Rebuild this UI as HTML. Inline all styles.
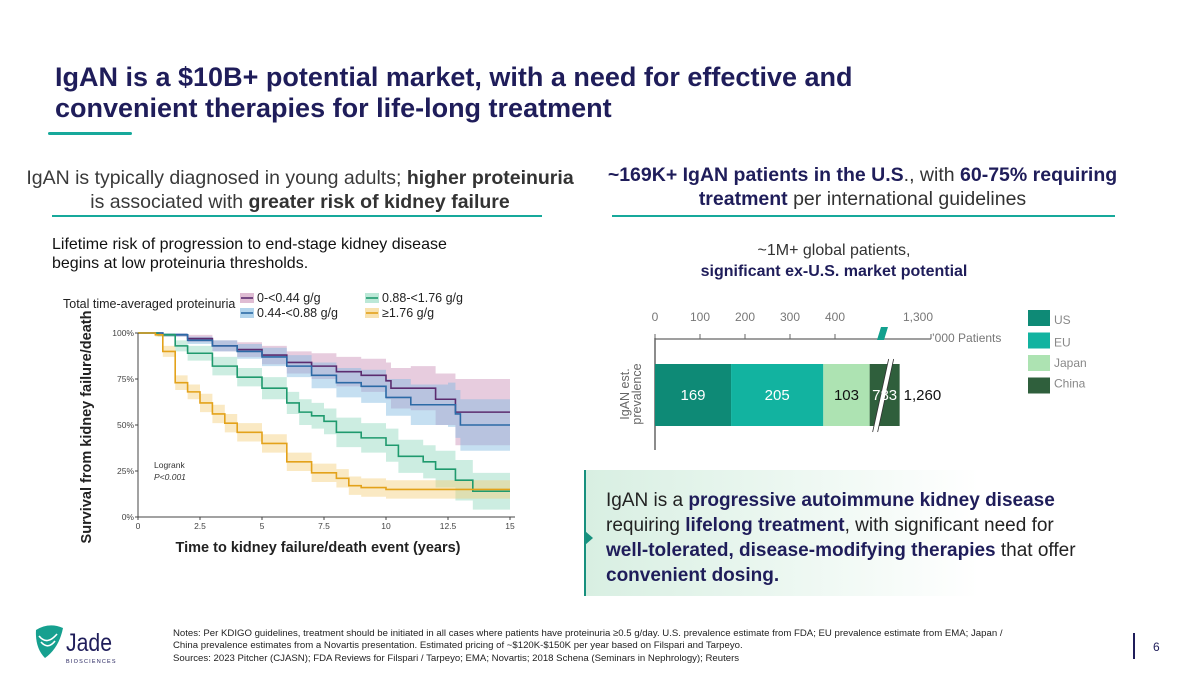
<!DOCTYPE html>
<html><head><meta charset="utf-8">
<style>
*{margin:0;padding:0;box-sizing:border-box}
body{width:1200px;height:675px;background:#fff;position:relative;overflow:hidden;font-family:"Liberation Sans",Arial,sans-serif}
.abs{position:absolute;white-space:nowrap}
.title{left:55px;top:62px;font-size:27px;font-weight:bold;color:#1f1d5a;line-height:31px}
.sub{font-size:19.5px;color:#3a3a3a;line-height:24px;text-align:center}
.sub b{color:#333}
.rsub{color:#333}
.rsub b{color:#1f1d5a}
.navy{color:#1f1d5a}
</style></head><body>
<div class="abs title">IgAN is a $10B+ potential market, with a need for effective and<br>convenient therapies for life-long treatment</div>
<div class="abs" style="left:48px;top:132px;width:84px;height:3px;background:#17a99b;border-radius:2px"></div>

<div class="abs sub" style="left:10px;width:580px;top:166px">IgAN is typically diagnosed in young adults; <b>higher proteinuria</b><br>is associated with <b>greater risk of kidney failure</b></div>
<div class="abs" style="left:52px;top:215px;width:490px;height:2px;background:#17a99b"></div>

<div class="abs sub rsub" style="left:585px;width:555px;top:163px"><b>~169K+ IgAN patients in the U.S</b>., with <b>60-75% requiring<br>treatment</b> per international guidelines</div>
<div class="abs" style="left:612px;top:215px;width:503px;height:2px;background:#17a99b"></div>

<div class="abs" style="left:52px;top:235px;font-size:16px;line-height:19px;color:#111">Lifetime risk of progression to end-stage kidney disease<br>begins at low proteinuria thresholds.</div>
<div class="abs" style="left:634px;width:400px;top:240px;font-size:16px;line-height:21px;text-align:center;color:#333">~1M+ global patients,<br><b class="navy">significant ex-U.S. market potential</b></div>

<svg class="abs" style="left:0;top:0" width="600" height="600" id="km">
<text x="63" y="308" font-size="12.5" fill="#222">Total time-averaged proteinuria</text>
<text x="91" y="427" font-size="14.5" font-weight="bold" fill="#222" text-anchor="middle" transform="rotate(-90 91 427)">Survival from kidney failure/death</text>
<text x="318" y="552" font-size="14.5" font-weight="bold" fill="#222" text-anchor="middle">Time to kidney failure/death event (years)</text>
<text x="154" y="468" font-size="8.5" fill="#333">Logrank</text>
<text x="154" y="480" font-size="8.5" fill="#333" font-style="italic">P&lt;0.001</text>
</svg>

<svg class="abs" style="left:0;top:0" width="1200" height="600" id="bar"></svg>

<div class="abs" style="left:584px;top:470px;width:395px;height:126px;background:linear-gradient(90deg,#d8efe2,#ffffff);border-left:2px solid #17907e"></div>
<div class="abs" style="left:585px;top:531px;width:0;height:0;border-top:7px solid transparent;border-bottom:7px solid transparent;border-left:8px solid #17907e"></div>
<div class="abs" style="left:606px;top:488px;font-size:19px;line-height:25px;color:#222">IgAN is a <b class="navy">progressive autoimmune kidney disease</b><br>requiring <b class="navy">lifelong treatment</b>, with significant need for<br><b class="navy">well-tolerated, disease-modifying therapies</b> that offer<br><b class="navy">convenient dosing.</b></div>

<svg class="abs" style="left:33px;top:624px" width="100" height="42">
<path d="M3 6 Q16 -2 30 4 Q26 24 12 34 Q2 24 3 6Z" fill="#16a08f"/>
<path d="M6 12 Q14 22 24 10 M8 18 Q15 26 22 17" stroke="#fff" stroke-width="1.6" fill="none"/>
<text x="33" y="27" font-size="25" fill="#1f1d5a" textLength="46" lengthAdjust="spacingAndGlyphs">Jade</text>
<text x="33" y="39" font-size="5.5" fill="#1f1d5a" letter-spacing="1.2">BIOSCIENCES</text>
</svg>
<div class="abs" style="left:173px;top:628px;font-size:9.6px;line-height:12.3px;color:#222">Notes: Per KDIGO guidelines, treatment should be initiated in all cases where patients have proteinuria ≥0.5 g/day. U.S. prevalence estimate from FDA; EU prevalence estimate from EMA; Japan /<br>China prevalence estimates from a Novartis presentation. Estimated pricing of ~$120K-$150K per year based on Filspari and Tarpeyo.<br>Sources: 2023 Pitcher (CJASN); FDA Reviews for Filspari / Tarpeyo; EMA; Novartis; 2018 Schena (Seminars in Nephrology); Reuters</div>
<div class="abs" style="left:1133px;top:633px;width:2px;height:26px;background:#1f1d5a"></div>
<div class="abs" style="left:1153px;top:640px;font-size:12px;color:#1f1d5a">6</div>

<script>
const kmTimes = {
 g1:[0,1,2,3,4,5,6,7,8,9,10,10.2,11,12,12.8,15],
 g2:[0,1,2,3,4,5,6,7,8,9,10,11,12.5,12.8,13,15],
 g3:[0,0.8,1.5,2,3,4,5,6,6.5,7,7.5,8,9,10,10.5,11.5,12,12.8,13.5,15],
 g4:[0,0.7,1,1.5,2,2.5,3,3.5,4,5,6,7,8,8.5,9,10,15]
};
const survPurple=[1,0.99,0.97,0.93,0.91,0.88,0.84,0.82,0.79,0.77,0.74,0.70,0.70,0.64,0.57,0.57];
const survBlue=[1,0.99,0.96,0.93,0.90,0.87,0.82,0.77,0.73,0.71,0.65,0.61,0.61,0.56,0.50,0.50];
const survGreen=[1,0.99,0.93,0.89,0.82,0.76,0.70,0.62,0.57,0.55,0.52,0.46,0.43,0.39,0.33,0.30,0.26,0.20,0.14,0.14];
const survYellow=[1,0.99,0.90,0.73,0.68,0.62,0.56,0.51,0.46,0.40,0.30,0.24,0.21,0.17,0.16,0.15,0.15];
const bandPurple=[0,0.01,0.02,0.03,0.04,0.05,0.06,0.07,0.08,0.09,0.10,0.11,0.12,0.14,0.18,0.23];
const bandBlue=[0,0.01,0.02,0.03,0.04,0.05,0.06,0.07,0.08,0.09,0.10,0.11,0.12,0.13,0.14,0.20];
const bandGreen=[0,0.01,0.03,0.04,0.05,0.05,0.06,0.06,0.07,0.07,0.07,0.08,0.08,0.09,0.09,0.09,0.10,0.11,0.10,0.10];
const bandYellow=[0,0.01,0.03,0.04,0.04,0.05,0.05,0.05,0.05,0.05,0.05,0.05,0.05,0.05,0.05,0.05,0.10];
const kmXTicks=[0,2.5,5,7.5,10,12.5,15];
const kmXTickLabels=["0","2.5","5","7.5","10","12.5","15"];
const kmYTicks=[0,0.25,0.5,0.75,1];
const kmYTickLabels=["0%","25%","50%","75%","100%"];
const kmLegend=["0-<0.44 g/g","0.44-<0.88 g/g","0.88-<1.76 g/g","≥1.76 g/g"];

const regions=["US","EU","Japan","China"];
const prevalence=[169,205,103,783];
const totalLabel="1,260";
const barTicks=[0,100,200,300,400];
const barTickLabels=["0","100","200","300","400"];
const brokenTickLabel="1,300";

const NS="http://www.w3.org/2000/svg";
function mk(parent,tag,attrs){const e=document.createElementNS(NS,tag);for(const k in attrs)e.setAttribute(k,attrs[k]);parent.appendChild(e);return e;}
const km=document.getElementById('km');
const kx=t=>138+t*(510-138)/15, ky=s=>517-s*(517-333);
const series=[
 {t:kmTimes.g1,s:survPurple,b:bandPurple,line:"#5b2c6f",fill:"#c98fb6",name:"purple"},
 {t:kmTimes.g2,s:survBlue,b:bandBlue,line:"#2c6aa6",fill:"#7fb8e0",name:"blue"},
 {t:kmTimes.g3,s:survGreen,b:bandGreen,line:"#1f9a6e",fill:"#8fd8bd",name:"green"},
 {t:kmTimes.g4,s:survYellow,b:bandYellow,line:"#e3a21a",fill:"#f3cf7a",name:"yellow"}
];
function stepPts(t,v){const p=[];for(let i=0;i<t.length;i++){if(i>0)p.push([kx(t[i]),ky(v[i-1])]);p.push([kx(t[i]),ky(v[i])]);}return p;}
series.forEach(sr=>{
 const up=sr.s.map((v,i)=>Math.min(1,v+sr.b[i])), lo=sr.s.map((v,i)=>Math.max(0,v-sr.b[i]));
 const pu=stepPts(sr.t,up), pl=stepPts(sr.t,lo).reverse();
 const band=mk(km,'polygon',{points:pu.concat(pl).map(p=>p.join(',')).join(' '),fill:sr.fill,'fill-opacity':0.45});
 
 
});
series.forEach(sr=>{
 const ln=mk(km,'polyline',{points:stepPts(sr.t,sr.s).map(p=>p.join(',')).join(' '),fill:'none',stroke:sr.line,'stroke-width':1.6});
 
 
});
mk(km,'line',{x1:138,y1:333,x2:138,y2:518,stroke:'#444','stroke-width':1});
mk(km,'line',{x1:137,y1:517,x2:515,y2:517,stroke:'#444','stroke-width':1});
kmXTicks.forEach((v,i)=>{mk(km,'line',{x1:kx(v),y1:517,x2:kx(v),y2:520,stroke:'#444'});
 const t=mk(km,'text',{x:kx(v),y:529,'font-size':8.5,fill:'#444','text-anchor':'middle'});t.textContent=kmXTickLabels[i];
 
 });
kmYTicks.forEach((v,i)=>{mk(km,'line',{x1:135,y1:ky(v),x2:138,y2:ky(v),stroke:'#444'});
 const t=mk(km,'text',{x:134,y:ky(v)+3,'font-size':8.5,fill:'#444','text-anchor':'end'});t.textContent=kmYTickLabels[i];
 
 });
const legPos=[[240,299],[240,314],[365,299],[365,314]];
[0,1,2,3].forEach(i=>{const [x,y]=legPos[i];const sr=series[i];
 mk(km,'rect',{x:x,y:y-6,width:14,height:10,fill:sr.fill,'fill-opacity':0.6});
 mk(km,'line',{x1:x+1,y1:y-1,x2:x+13,y2:y-1,stroke:sr.line,'stroke-width':1.6});
 const t=mk(km,'text',{x:x+17,y:y+3,'font-size':12.5,fill:'#222'});t.textContent=kmLegend[i];
 
 });

const regionColors=["#0e8a76","#12b3a0","#ade3b2","#2f5f3c"];
const labelColors=["#fff","#fff","#111","#fff"];
const bar=document.getElementById('bar');
const bx=v=>655+v*0.45;
const brokenW=30;
mk(bar,'line',{x1:655,y1:339,x2:931,y2:339,stroke:'#666','stroke-width':1.2});
mk(bar,'line',{x1:655,y1:338,x2:655,y2:450,stroke:'#666','stroke-width':1.5});
barTicks.forEach((v,i)=>{mk(bar,'line',{x1:bx(v),y1:334,x2:bx(v),y2:339,stroke:'#666'});
 const t=mk(bar,'text',{x:bx(v),y:321,'font-size':12,fill:'#777','text-anchor':'middle'});t.textContent=barTickLabels[i];
 
 });
mk(bar,'line',{x1:931,y1:334,x2:931,y2:339,stroke:'#666'});
let bt=mk(bar,'text',{x:918,y:321,'font-size':12,fill:'#777','text-anchor':'middle'});bt.textContent=brokenTickLabel;


mk(bar,'polygon',{points:'881,327 888,327 884,340 877,340',fill:'#12a08e'});
let at=mk(bar,'text',{x:932,y:342,'font-size':12,fill:'#777'});at.textContent="’000 Patients";


let cum=0; const labels=[];
prevalence.forEach((v,i)=>{
 const x0=bx(cum); const w=(i===3)?brokenW:v*0.45; cum+=v;
 const r=mk(bar,'rect',{x:x0,y:364,width:w,height:62,fill:regionColors[i]});
 
 
 labels.push([x0+w/2,v,i]);
});
const chinaX=bx(prevalence[0]+prevalence[1]+prevalence[2]);
mk(bar,'polygon',{points:`${chinaX+19},359 ${chinaX+24},359 ${chinaX+8},432 ${chinaX+3},432`,fill:'#fff'});
mk(bar,'line',{x1:chinaX+19,y1:359,x2:chinaX+3,y2:432,stroke:'#333','stroke-width':0.8});
mk(bar,'line',{x1:chinaX+24,y1:359,x2:chinaX+8,y2:432,stroke:'#333','stroke-width':0.8});
labels.forEach(([x,v,i])=>{
 const t=mk(bar,'text',{x:x,y:400,'font-size':15,fill:labelColors[i],'text-anchor':'middle'});t.textContent=v;
 
 
});
let tl=mk(bar,'text',{x:chinaX+brokenW+4,y:400,'font-size':15,fill:'#111'});tl.textContent=totalLabel;


regions.forEach((r,i)=>{
 const y=310+i*22.5;
 const s=mk(bar,'rect',{x:1028,y:y,width:22,height:16,fill:regionColors[i]});
 
 
 const t=mk(bar,'text',{x:1054,y:y+(i<2?14:i===2?12:10),'font-size':12,fill:'#888'});t.textContent=r;
 
 
});
const yl=mk(bar,'text',{x:0,y:0,'font-size':12.5,fill:'#666','text-anchor':'middle',transform:'translate(629,394) rotate(-90)'});


const ts1=mk(yl,'tspan',{x:0,y:0});ts1.textContent="IgAN est.";
const ts2=mk(yl,'tspan',{x:0,y:12});ts2.textContent="prevalence";
</script>
</body></html>
